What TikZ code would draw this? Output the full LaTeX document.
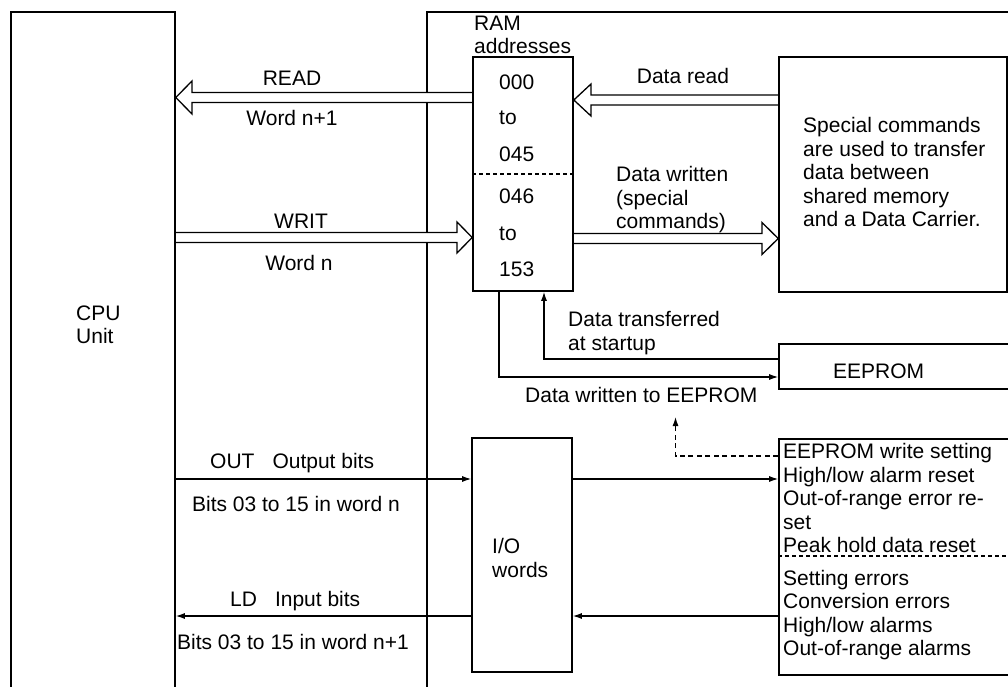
\documentclass[tikz,border=0pt]{standalone}
\usepackage{fontspec}
\setmainfont{Liberation Sans}
\usetikzlibrary{arrows.meta}
\pgfdeclarelayer{bg}
\pgfdeclarelayer{mid}
\pgfsetlayers{bg,mid,main}
\begin{document}
\begin{tikzpicture}[x=1pt,y=-1pt,
  box/.style={draw, line width=1.6pt, inner sep=0pt, rectangle},
  lbl/.style={inner sep=0pt, font=\fontsize{21}{23.5}\selectfont, align=left},
  hollow/.style={draw, fill=white, line width=1.3pt, line join=miter},
  tarrow/.style={line width=1.2pt, -{Latex[length=9pt,width=6pt]}},
  darrow/.style={line width=1.2pt, dash pattern=on 5pt off 3.5pt, -{Latex[length=9pt,width=6pt]}},
  sepline/.style={line width=1.2pt, dash pattern=on 4pt off 3pt}]
\useasboundingbox (0,0) rectangle (1008,687);

% outer frames (open at the bottom of the page)
\begin{pgfonlayer}{bg}
\node[box, minimum width=585pt, minimum height=690pt] (outer) at (719.5,357) {};
\end{pgfonlayer}
\node[box, minimum width=164pt, minimum height=690pt] (cpubox) at (93,357) {};

% boxes
\node[box, minimum width=100pt, minimum height=234pt] (ram) at (523,174) {};
\node[box, minimum width=228pt, minimum height=235pt] (spec) at (893,174.5) {};
\node[box, minimum width=233pt, minimum height=45pt] (eeprom) at (895.5,366.5) {};
\node[box, minimum width=100pt, minimum height=234pt] (io) at (522,555) {};
\node[box, minimum width=233pt, minimum height=236pt] (stat) at (895.5,557) {};

% dashed separators
\draw[sepline] (ram.west |- 0,174) -- (ram.east |- 0,174);
\draw[sepline] (stat.west |- 0,556) -- (stat.east |- 0,556);

% hollow arrows
\begin{pgfonlayer}{mid}
\draw[hollow] (ram.west |- 0,92.5) -- (192,92.5) -- (192,81) -- (cpubox.east |- 0,97.5)
  -- (192,114) -- (192,102.5) -- (ram.west |- 0,102.5);
\draw[hollow] (cpubox.east |- 0,232.5) -- (457,232.5) -- (457,222) -- (ram.west |- 0,237.5)
  -- (457,253) -- (457,242.5) -- (cpubox.east |- 0,242.5);
\draw[hollow] (spec.west |- 0,95) -- (591,95) -- (591,84) -- (ram.east |- 0,100)
  -- (591,116) -- (591,105) -- (spec.west |- 0,105);
\draw[hollow] (ram.east |- 0,233.5) -- (762,233.5) -- (762,222.5) -- (spec.west |- 0,238.5)
  -- (762,254.5) -- (762,243.5) -- (ram.east |- 0,243.5);
\end{pgfonlayer}

% thin connectors
\coordinate (bendT) at (544,359);
\coordinate (bendW) at (499,377);
\coordinate (bendD) at (675.5,456);
\draw[tarrow] (eeprom.west |- bendT) -- (bendT) -- (ram.south -| bendT);
\draw[tarrow] (ram.south -| bendW) -- (bendW) -- (eeprom.west |- bendW);
\draw[darrow] (stat.west |- bendD) -- (bendD) -- (675.5,417);
\draw[tarrow] (cpubox.east |- 0,479) -- (io.west |- 0,479);
\draw[tarrow] (io.east |- 0,479) -- (stat.west |- 0,479);
\draw[tarrow] (stat.west |- 0,616) -- (io.east |- 0,616);
\draw[tarrow] (io.west |- 0,616) -- (cpubox.east |- 0,616);

% texts
\node[lbl, anchor=north west] (cpul) at (76,303.5) {\strut CPU\\Unit};
\node[lbl, anchor=north west] (ramlbl) at (474,13.5) {\strut RAM\\addresses};
\node[lbl, anchor=base west] (a1) at (499,89.3) {000};
\node[lbl, anchor=base west] (a2) at (499,125) {to};
\node[lbl, anchor=base west] (a3) at (499,161.7) {045};
\node[lbl, anchor=base west] (a4) at (499,204) {046};
\node[lbl, anchor=base west] (a5) at (499,240) {to};
\node[lbl, anchor=base west] (a6) at (499,276.7) {153};
\node[lbl, anchor=base] (readl) at (292,86) {READ};
\node[lbl, anchor=base] (wnp1) at (292,126) {Word n+1};
\node[lbl, anchor=base] (writl) at (301,228.3) {WRIT};
\node[lbl, anchor=base] (wn) at (299,270) {Word n};
\node[lbl, anchor=base] (dread) at (683,83.3) {Data read};
\node[lbl, anchor=north west] (dwrit) at (616,165.2) {\strut Data written\\(special\\commands)};
\node[lbl, anchor=north west] (spectxt) at (803,115.9) {\strut Special commands\\are used to transfer\\data between\\shared memory\\and a Data Carrier.};
\node[lbl, anchor=north west] (dtrans) at (568,310.2) {\strut Data transferred\\at startup};
\node[lbl, anchor=base west] (eel) at (833,378.3) {EEPROM};
\node[lbl, anchor=base west] (dwe) at (525,402.7) {Data written to EEPROM};
\node[lbl, anchor=base west] (outl) at (210,468.3) {OUT\hspace{18pt}Output bits};
\node[lbl, anchor=base] (bitsn) at (296,511.7) {Bits 03 to 15 in word n};
\node[lbl, anchor=base west] (ldl) at (230,606) {LD\hspace{18pt}Input bits};
\node[lbl, anchor=base] (bitsn1) at (293,649.3) {Bits 03 to 15 in word n+1};
\node[lbl, anchor=north west] (iol) at (492,536.9) {\strut I/O\\words};
\node[lbl, anchor=north west] (statup) at (783,441.9) {\strut EEPROM write setting\\High/low alarm reset\\Out-of-range error re-\\set\\Peak hold data reset};
\node[lbl, anchor=north west] (statlo) at (783,568.5) {\strut Setting errors\\Conversion errors\\High/low alarms\\Out-of-range alarms};
\end{tikzpicture}
\end{document}
